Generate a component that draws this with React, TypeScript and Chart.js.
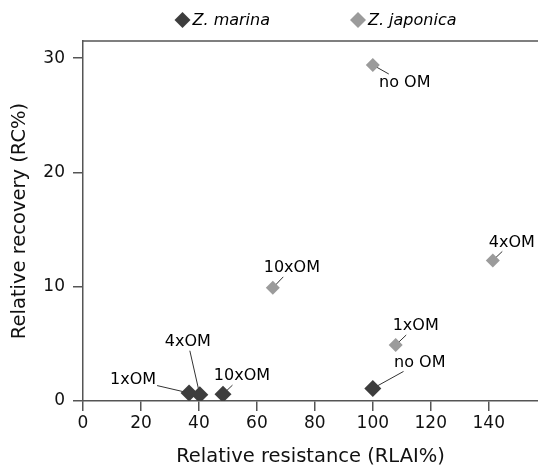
import React, { useEffect, useRef } from "react";
import { Chart, registerables } from "chart.js";

Chart.register(...registerables);

const seriesNames = ["Z. marina", "Z. japonica"];
const seriesColors = ["#3d3d3d", "#9b9b9b"];

const marinaLabels = ["1xOM", "4xOM", "10xOM", "no OM"];
const marinaX = [36.6, 40.3, 48.3, 100];
const marinaY = [0.7, 0.55, 0.6, 1.1];

const japonicaLabels = ["no OM", "10xOM", "1xOM", "4xOM"];
const japonicaX = [100, 65.5, 107.9, 141.4];
const japonicaY = [29.4, 9.9, 4.9, 12.3];

const xTitle = "Relative resistance (RLAI%)";
const yTitle = "Relative recovery (RC%)";

// label placement (pixel offsets of label centre from its point)
const marinaOffsets = [[-56, -13], [-12, -53], [19, -18], [47, -26]];
const japonicaOffsets = [[32, 18], [19, -20], [20, -19], [19, -18]];

const FONT = "'DejaVu Sans', sans-serif";

function clipToRect(cx: number, cy: number, hw: number, hh: number, px: number, py: number) {
  const dx = px - cx;
  const dy = py - cy;
  const tx = dx !== 0 ? hw / Math.abs(dx) : Infinity;
  const ty = dy !== 0 ? hh / Math.abs(dy) : Infinity;
  const t = Math.min(tx, ty, 1);
  return [cx + dx * t, cy + dy * t];
}

const labelPlugin = {
  id: "pointLabels",
  beforeDatasetsDraw(chart: any) {
    const ctx = chart.ctx;
    ctx.save();
    ctx.font = `16px ${FONT}`;
    ctx.strokeStyle = "#333";
    ctx.lineWidth = 1;
    chart.data.datasets.forEach((ds: any, di: number) => {
      const meta = chart.getDatasetMeta(di);
      meta.data.forEach((pt: any, i: number) => {
        const [ox, oy] = ds.offsets[i];
        const cx = pt.x + ox;
        const cy = pt.y + oy;
        const w = ctx.measureText(ds.labels[i]).width;
        const [sx, sy] = clipToRect(cx, cy, w / 2 + 1, 9, pt.x, pt.y);
        ctx.beginPath();
        ctx.moveTo(sx, sy);
        ctx.lineTo(pt.x, pt.y);
        ctx.stroke();
      });
    });
    ctx.restore();
  },
  afterDatasetsDraw(chart: any) {
    const ctx = chart.ctx;
    ctx.save();
    ctx.font = `16px ${FONT}`;
    ctx.fillStyle = "#000";
    ctx.textAlign = "center";
    ctx.textBaseline = "middle";
    chart.data.datasets.forEach((ds: any, di: number) => {
      const meta = chart.getDatasetMeta(di);
      meta.data.forEach((pt: any, i: number) => {
        const [ox, oy] = ds.offsets[i];
        ctx.fillText(ds.labels[i], pt.x + ox, pt.y + oy);
      });
    });
    // top frame line
    const a = chart.chartArea;
    ctx.strokeStyle = "#555";
    ctx.lineWidth = 1.5;
    ctx.beginPath();
    ctx.moveTo(a.left, a.top);
    ctx.lineTo(a.right, a.top);
    ctx.stroke();
    // legend
    ctx.font = `italic 16px ${FONT}`;
    ctx.textAlign = "left";
    const items = chart.data.datasets.map((ds: any) => ({
      text: ds.label,
      color: ds.backgroundColor,
      w: ctx.measureText(ds.label).width,
    }));
    const gap = 80;
    const boxW = 18;
    const total = items.reduce((s: number, it: any) => s + boxW + it.w, 0) + gap * (items.length - 1);
    let x = (a.left + a.right) / 2 - total / 2 + 5;
    const y = 20;
    items.forEach((it: any) => {
      const r = 8;
      const mx = x + r;
      ctx.fillStyle = it.color;
      ctx.beginPath();
      ctx.moveTo(mx, y - r);
      ctx.lineTo(mx + r, y);
      ctx.lineTo(mx, y + r);
      ctx.lineTo(mx - r, y);
      ctx.closePath();
      ctx.fill();
      ctx.fillStyle = "#000";
      ctx.fillText(it.text, x + boxW, y + 1);
      x += boxW + it.w + gap;
    });
    ctx.restore();
  },
};

export default function App() {
  const ref = useRef<HTMLCanvasElement>(null);
  useEffect(() => {
    document.body.style.margin = "0";
    const toPts = (xs: number[], ys: number[]) => xs.map((x, i) => ({ x, y: ys[i] }));
    const chart = new Chart(ref.current as HTMLCanvasElement, {
      type: "scatter",
      data: {
        datasets: [
          {
            label: seriesNames[0],
            data: toPts(marinaX, marinaY),
            backgroundColor: seriesColors[0],
            borderColor: seriesColors[0],
            pointStyle: "rectRot",
            pointRadius: 8.5,
            pointBorderWidth: 0,
            labels: marinaLabels,
            offsets: marinaOffsets,
          } as any,
          {
            label: seriesNames[1],
            data: toPts(japonicaX, japonicaY),
            backgroundColor: seriesColors[1],
            borderColor: seriesColors[1],
            pointStyle: "rectRot",
            pointRadius: 7,
            pointBorderWidth: 0,
            labels: japonicaLabels,
            offsets: japonicaOffsets,
          } as any,
        ],
      },
      options: {
        animation: false,
        responsive: false,
        layout: { autoPadding: false, padding: { top: 41, left: 0, right: 0, bottom: 0 } },
        plugins: {
          legend: { display: false },
          tooltip: { enabled: false },
        },
        scales: {
          x: {
            type: "linear",
            min: 0,
            max: 157,
            afterFit: (s: any) => {
              s.height = 72;
              s.paddingRight = 0;
              s.paddingLeft = 0;
            },
            ticks: {
              stepSize: 20,
              includeBounds: false,
              color: "#111",
              font: { family: FONT, size: 17 },
              padding: 2,
              maxRotation: 0,
            },
            grid: { drawOnChartArea: false, drawTicks: true, tickLength: 10, color: "#555", lineWidth: 1.5 },
            border: { display: true, color: "#555", width: 1.5 },
            title: {
              display: true,
              text: xTitle,
              color: "#111",
              font: { family: FONT, size: 19.5 },
              padding: { top: 2 },
            },
          },
          y: {
            type: "linear",
            min: 0,
            max: 31.5,
            afterFit: (s: any) => {
              s.width = 83;
            },
            ticks: {
              stepSize: 10,
              includeBounds: false,
              color: "#111",
              font: { family: FONT, size: 17 },
              padding: 8,
            },
            grid: { drawOnChartArea: false, drawTicks: true, tickLength: 10, color: "#555", lineWidth: 1.5 },
            border: { display: true, color: "#555", width: 1.5 },
            title: {
              display: true,
              text: yTitle,
              color: "#111",
              font: { family: FONT, size: 19.5 },
              padding: { top: 8, bottom: 4 },
            },
          },
        },
      },
      plugins: [labelPlugin],
    });
    return () => chart.destroy();
  }, []);
  return (
    <div style={{ width: 538, height: 473 }}>
      <canvas ref={ref} width={538} height={473} />
    </div>
  );
}
